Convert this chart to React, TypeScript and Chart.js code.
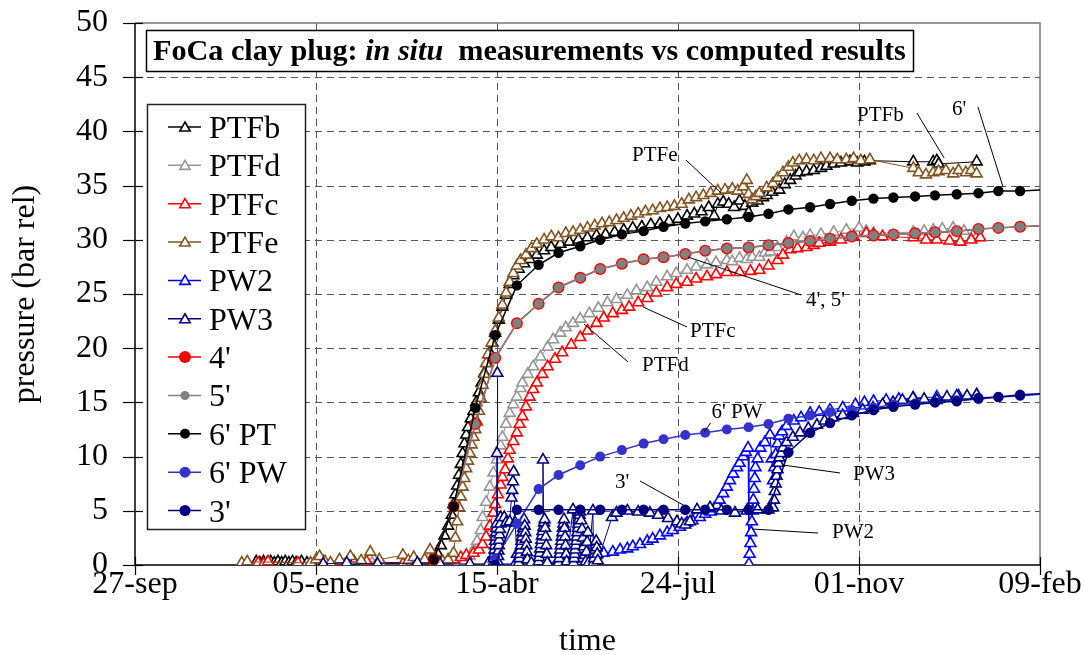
import React, { useEffect, useRef } from 'react';
import { Chart, registerables } from 'chart.js';

Chart.register(...registerables);

const SERIF = "'Liberation Serif', 'Times New Roman', Times, serif";

// ---------- axes ----------
const xTickLabels = ['27-sep', '05-ene', '15-abr', '24-jul', '01-nov', '09-feb'];
const xMin = 0;
const xMax = 500;
const xStep = 100;
const yMin = 0;
const yMax = 50;
const yStep = 5;
const xTitle = 'time';
const yTitle = 'pressure (bar rel)';

// ---------- measured series: [day since 27-sep, bar] ----------
const ptfb: [number, number][] = [
  [67, 0.3], [69, 0.2], [71, 0.3], [73, 0.2], [75, 0.3], [77, 0.2], [79, 0.3], [81, 0.2], [83, 0.3], [85, 0.2], [87, 0.3], [89, 0.2], [92, 0.3], [95, 0.2], [121, 0.3], [150, 0.2],
  [160, 0.3], [164, 0.6], [167, 1.1], [169, 1.8], [171, 2.7], [173, 3.6], [175, 4.6], [176, 5.6], [177, 6.5], [178, 7.3], [179, 8.3], [180, 9.3], [181, 10.3], [182, 11.2], [183, 12.0], [184, 12.7], [185.5, 13.5], [187, 14.2], [188.5, 15.0], [190, 15.9], [191.5, 16.8], [193, 17.7], [194.5, 18.6], [196, 19.6], [197.5, 20.5], [199, 21.4], [201, 22.6], [203, 23.8], [205, 24.9], [207, 25.9], [209, 26.7], [212, 27.3], [215, 27.8], [218, 28.2], [222, 28.6], [226, 29.0], [230, 29.3], [235, 29.6], [240, 29.8], [245, 30.0], [250, 30.2], [255, 30.4], [260, 30.5], [265, 30.7], [270, 30.9], [275, 31.1], [280, 31.2], [285, 31.4], [290, 31.5], [295, 31.7], [300, 31.9], [305, 32.2], [309, 32.4], [313, 32.6], [317, 33.0], [320, 32.2], [322, 33.3], [325, 33.5], [328, 33.3], [331, 33.0], [334, 33.6], [337, 33.1], [339, 32.5], [341, 33.4], [344, 33.6], [347, 33.9], [349, 34.1], [352, 34.4], [356, 34.6], [359, 35.1], [362, 35.5], [365, 35.9], [367, 36.2], [371, 36.3], [375, 36.4], [379, 36.6], [382, 36.8], [386, 37.0], [390, 37.1], [395, 37.2], [399, 37.1], [403, 37.2], [406, 37.3], [430, 37.2], [441, 37.2], [443, 37.3], [444, 37.0], [465, 37.2],
];

const ptfd: [number, number][] = [
  [131, 0.2], [136, 0.1], [178, 0.1], [182, 0.3], [185, 0.8], [187, 1.4], [189, 2.2], [191, 3.2], [192, 4.4], [194, 5.8], [196, 7.2], [198, 8.5], [200, 9.7], [202, 11.0], [203, 11.8], [205, 13.0], [207, 14.0], [209, 14.8], [211, 15.5], [213, 16.3], [214, 16.8], [217, 17.6], [220, 18.3], [224, 19.2], [228, 20.1], [231, 20.8], [235, 21.4], [238, 21.9], [242, 22.3], [246, 22.7], [251, 23.2], [256, 23.7], [261, 24.2], [266, 24.5], [272, 24.9], [277, 25.3], [283, 25.6], [288, 26.1], [294, 26.6], [299, 26.9], [305, 27.2], [310, 27.5], [316, 27.7], [321, 27.9], [327, 28.1], [330, 28.0], [334, 28.3], [338, 28.2], [341, 28.4], [345, 28.4], [348, 28.8], [351, 28.9], [355, 29.3], [360, 29.8], [364, 30.3], [369, 30.2], [373, 30.4], [379, 30.5], [386, 30.7], [393, 30.9], [400, 31.1], [404, 30.8], [408, 30.6], [430, 30.7], [436, 30.8], [441, 30.9], [446, 31.0], [452, 31.1], [458, 30.8], [463, 30.4], [465, 30.2],
];

const ptfc: [number, number][] = [
  [68, 0.2], [71, 0.1], [73.5, 0.3], [90, 0.2], [104, 0.3], [113, 0.3], [128, 0.3], [148, 0.1], [165, 0.2], [170, 0.3], [176, 0.5], [180, 0.7], [183, 0.9], [187, 1.1], [190, 1.4], [192, 1.9], [194, 2.6], [196, 3.6], [198, 4.8], [199, 5.6], [200.5, 6.5], [202, 7.4], [203, 8.1], [204.5, 8.8], [206, 9.8], [207, 10.6], [209, 11.4], [211, 12.2], [212.5, 13.0], [214, 13.7], [216, 14.6], [218, 15.5], [220, 16.2], [222, 16.8], [225, 17.6], [228, 18.3], [232, 19.0], [236, 19.6], [241, 20.3], [246, 21.0], [250, 21.6], [255, 22.3], [259, 22.8], [264, 23.2], [269, 23.5], [273, 23.8], [278, 24.2], [283, 24.6], [288, 25.1], [294, 25.6], [299, 25.9], [305, 26.1], [310, 26.4], [316, 26.6], [321, 26.8], [327, 27.0], [334, 27.0], [340, 27.1], [345, 27.2], [350, 27.6], [355, 28.1], [358, 28.6], [362, 29.1], [366, 29.2], [371, 29.3], [375, 29.5], [378, 29.7], [384, 29.8], [390, 30.0], [397, 30.3], [404, 30.6], [408, 30.5], [413, 30.3], [430, 30.2], [437, 30.0], [443, 30.0], [450, 29.9], [456, 29.8], [462, 30.0], [467, 30.2],
];

const ptfe: [number, number][] = [
  [59, 0.2], [62, 0.3], [97, 0.2], [100, 0.5], [102, 0.8], [105, 0.3], [108, 0.2], [113, 0.5], [119, 0.8], [125, 0.4], [130, 1.2], [135, 0.5], [148, 0.9], [151, 0.4], [154, 0.7], [160, 0.5], [163, 1.4], [166, 0.6], [170, 0.3], [173, 0.5], [176, 1.1], [177, 2.5], [178, 4.0], [179, 5.3], [180, 6.3], [181, 7.2], [182, 8.0], [183, 8.9], [184, 9.6], [185, 10.3], [186, 11.1], [187, 11.8], [188, 12.5], [189, 13.2], [190, 14.2], [191, 15.4], [192, 16.6], [193, 17.6], [194, 18.6], [195, 19.4], [197, 20.5], [199, 21.6], [201, 22.8], [203, 24.0], [205, 25.1], [207, 26.1], [209, 26.9], [211, 27.6], [213, 28.1], [216, 28.6], [219, 29.2], [222, 29.6], [226, 30.0], [230, 30.3], [234, 30.2], [238, 30.6], [242, 30.7], [246, 30.9], [250, 31.1], [254, 31.3], [258, 31.5], [262, 31.6], [266, 31.8], [270, 32.0], [274, 32.2], [278, 32.4], [282, 32.6], [286, 32.7], [290, 32.9], [294, 33.0], [298, 33.1], [302, 33.3], [306, 33.7], [310, 33.9], [314, 34.1], [318, 34.3], [322, 34.5], [326, 34.6], [330, 34.7], [333, 34.5], [336, 34.9], [338, 35.5], [339, 34.2], [341, 33.7], [343, 34.0], [345, 34.3], [349, 34.8], [352.5, 35.2], [355, 35.7], [358, 36.2], [361, 36.7], [363.5, 37.1], [367, 37.3], [371, 37.4], [375, 37.3], [379, 37.5], [384, 37.5], [388, 37.4], [393, 37.4], [397, 37.5], [401, 37.3], [406, 37.4], [430, 36.6], [433, 36.2], [437, 36.0], [441, 36.2], [444, 36.3], [448, 36.4], [452, 36.1], [455, 36.4], [459, 36.2], [462, 36.4], [465, 36.1],
];

const pw2: [number, number][] = [
  [200, 0.1], [210, 0.1], [222, 0.3], [228, 0.2], [234, 0.3], [238, 0.4], [242, 0.6], [247, 0.6], [251, 0.7], [255, 0.9], [259, 1.1], [264, 1.2], [268, 1.4], [272, 1.5], [275, 1.7], [279, 1.9], [283, 2.2], [286, 2.4], [290, 2.7], [294, 3.0], [297, 3.2], [301, 3.5], [305, 3.9], [308, 4.1], [312, 4.4], [315, 4.7], [318, 4.9], [320, 5.2], [321.5, 5.5], [323, 6.0], [325, 6.6], [327, 7.2], [328.7, 7.8], [330.5, 8.4], [332.6, 9.0], [334, 9.4], [336, 10.0], [337.5, 10.4], [338.7, 10.8],
  [339.2, 0.1], [339.6, 1.0], [340, 2.0], [340.4, 3.0], [340.8, 4.0], [341.2, 5.0], [341.6, 6.0], [342, 7.0], [342.4, 8.0], [342.8, 9.0], [344, 9.8], [345.5, 10.8], [348, 11.3], [350.8, 12.0], [351.8, 9.8], [352.5, 7.8], [353.2, 9.0], [354, 10.2], [355, 11.2], [356, 11.9], [357.5, 12.3], [360, 12.8], [364, 13.3], [368, 13.6], [373, 14.0], [378, 14.1], [384, 14.3], [391, 14.5], [398, 14.8], [403, 15.0], [408, 15.1], [415, 15.2], [422, 15.3], [430, 15.4], [443, 15.5], [455, 15.6], [465, 15.7],
];

const pw3: [number, number][] = [
  [104, 0.1], [117, 0.2], [134, 0.1], [156, 0.2], [168.5, 0.1], [185, 0.1], [195, 0.1],
  [198, 0.2], [198.2, 0.6], [198.4, 1.0], [198.6, 1.4], [198.8, 1.8], [199, 2.2], [199.2, 2.6], [199.4, 3.0], [199.6, 3.4], [199.8, 3.8], [200, 10.3], [200.2, 17.7], [200.4, 0.3], [200.6, 0.8], [200.8, 1.3], [201, 1.8], [201.2, 2.3], [201.4, 2.8], [201.6, 3.3], [201.8, 3.8], [202, 4.4],
  [204, 4.4], [205, 3.9], [207, 4.0], [208, 6.2], [208.4, 6.9], [208.8, 7.7], [209.2, 8.6], [210, 3.9], [211, 1.0],
  [212, 0.2], [212.3, 0.6], [212.6, 1.0], [212.9, 1.4], [213.2, 1.8], [213.5, 2.2], [213.8, 2.6], [214.1, 3.0], [214.4, 3.4], [214.7, 3.8], [215, 4.2], [215.3, 3.6], [215.6, 3.0], [215.9, 2.4], [216.2, 1.8], [216.5, 1.2], [216.8, 0.5], [219, 0.2],
  [223, 0.3], [223.3, 0.7], [223.6, 1.1], [223.9, 1.5], [224.2, 1.9], [224.5, 2.3], [224.8, 2.7], [225.1, 3.1], [225.4, 9.7], [225.7, 3.5], [226, 3.9], [226.3, 4.2], [226.6, 3.4], [226.9, 2.6], [227.2, 1.8], [227.5, 1.0], [227.8, 0.2],
  [234, 0.2], [234.3, 0.6], [234.6, 1.0], [234.9, 1.4], [235.2, 1.8], [235.5, 2.2], [235.8, 2.6], [236.1, 3.0], [236.4, 3.4], [236.7, 3.8], [237, 4.2], [237.3, 3.4], [237.6, 2.6], [237.9, 1.8], [238.2, 1.0], [238.5, 0.3],
  [242, 5.1], [242.3, 0.2], [242.6, 0.6], [242.9, 1.0], [243.2, 1.4], [243.5, 1.8], [243.8, 2.2], [244.1, 2.6], [244.4, 3.0], [244.7, 3.4], [245, 3.8], [245.3, 4.2], [245.6, 4.6], [245.9, 4.9], [246.5, 4.1], [247, 3.3], [247.5, 2.5], [248, 1.7], [248.5, 0.9], [249, 0.3], [249.4, 1.2], [249.8, 2.1], [250.2, 3.0], [250.6, 0.2],
  [253, 5.0], [253.3, 0.2], [253.6, 0.6], [253.9, 1.0], [254.2, 1.4], [254.5, 1.8], [254.8, 2.2], [255.1, 1.6], [255.4, 1.0], [255.7, 0.4],
  [263.5, 4.4], [266, 4.8], [272, 5.0], [278, 4.9], [284.5, 4.8], [289, 4.6], [294.5, 4.3], [299.4, 4.0], [302, 3.8], [304, 3.7], [306.6, 4.0], [310.5, 5.1], [317.7, 5.3], [324, 5.0], [331.5, 4.8], [338, 5.0], [344, 5.1], [350, 5.1],
  [352.5, 5.3], [353, 6.0], [353.5, 6.8], [354, 7.5], [354.5, 8.2], [355, 8.8], [355.5, 9.4], [356, 9.9], [357, 10.3], [358, 10.8], [360, 11.3], [363.5, 11.8], [367.4, 12.2], [372, 12.6], [376.8, 12.9], [381, 13.3], [385.6, 13.6], [391, 13.8], [396.7, 14.0], [402, 14.3], [407.7, 14.5], [413, 14.8], [418.8, 15.0], [424, 15.2], [429.8, 15.4], [436, 15.3], [443, 15.2], [448.6, 15.5], [454, 15.6], [459.7, 15.6], [465, 15.7],
];

// ---------- computed results ----------
const simDays = [165, 176, 188, 199, 211, 223, 234, 246, 257, 269, 281, 292, 304, 315, 327, 339, 350, 361, 373, 384, 396, 408, 419, 431, 442, 454, 466, 477, 489, 500];
const sim4 = [0.5, 5.4, 13.0, 19.1, 22.3, 24.1, 25.6, 26.5, 27.3, 27.8, 28.2, 28.4, 28.7, 29.0, 29.2, 29.3, 29.5, 29.7, 29.9, 30.1, 30.3, 30.4, 30.5, 30.6, 30.7, 30.8, 31.0, 31.1, 31.2, 31.3];
const sim5 = [0.5, 5.4, 13.0, 19.1, 22.3, 24.1, 25.6, 26.5, 27.3, 27.8, 28.2, 28.4, 28.7, 29.0, 29.2, 29.3, 29.5, 29.7, 29.9, 30.1, 30.3, 30.4, 30.5, 30.6, 30.7, 30.8, 31.0, 31.1, 31.2, 31.3];
const sim6PT = [0.5, 5.4, 14.5, 21.2, 25.8, 27.7, 28.8, 29.4, 30.0, 30.5, 30.8, 31.2, 31.5, 31.7, 31.9, 32.1, 32.4, 32.8, 33.0, 33.3, 33.6, 33.8, 33.9, 34.0, 34.1, 34.2, 34.3, 34.5, 34.5, 34.6];
const sim6PW = [null, null, null, 0.6, 3.8, 7.0, 8.3, 9.2, 10.0, 10.6, 11.2, 11.6, 12.0, 12.2, 12.5, 12.7, 13.0, 13.5, 13.8, 14.1, 14.3, 14.5, 14.8, 14.9, 15.0, 15.2, 15.3, 15.5, 15.6, 15.75];
const sim3 = [null, null, null, 0, 5.1, 5.1, 5.1, 5.1, 5.1, 5.1, 5.1, 5.1, 5.1, 5.1, 5.1, 5.1, 5.1, 10.4, 12.2, 13.1, 13.8, 14.3, 14.6, 14.8, 15.0, 15.1, 15.4, 15.5, 15.7, 15.8];

const seriesNames = ['PTFb', 'PTFd', 'PTFc', 'PTFe', 'PW2', 'PW3', "4'", "5'", "6' PT", "6' PW", "3'"];

// ---------- styles ----------
const styles = [
  { color: '#000000', kind: 'tri', r: 6.3, lr: 6 },
  { color: '#969696', kind: 'tri', r: 6.3, lr: 6 },
  { color: '#FF0000', kind: 'tri', r: 6.3, lr: 6 },
  { color: '#845420', kind: 'tri', r: 6.3, lr: 6 },
  { color: '#0000FF', kind: 'tri', r: 6.3, lr: 6 },
  { color: '#000080', kind: 'tri', r: 6.3, lr: 6 },
  { color: '#FF0000', kind: 'dot', r: 6, lr: 6 },
  { color: '#808080', kind: 'dot', r: 4.6, lr: 4.5 },
  { color: '#000000', kind: 'dot', r: 5.2, lr: 5 },
  { color: '#3333CC', kind: 'dot', r: 5, lr: 5.5 },
  { color: '#000080', kind: 'dot', r: 5.2, lr: 5.5 },
];

// annotations: text at (day, bar) baseline-left, leader line from (day, bar) to (day, bar)
const annotations = [
  { text: 'PTFb', t: [398.9, 40.96], a: [432.0, 41.7], b: [447.0, 37.55] },
  { text: "6'", t: [451.4, 41.51], a: [465.7, 42.25], b: [479.6, 34.87] },
  { text: 'PTFe', t: [274.6, 37.27], a: [304.4, 37.36], b: [323.8, 34.32] },
  { text: "4', 5'", t: [370.7, 23.89], a: [368.0, 24.91], b: [305.5, 28.41] },
  { text: 'PTFc', t: [306.6, 21.03], a: [305.0, 21.96], b: [280.7, 23.8] },
  { text: 'PTFd', t: [280.1, 17.9], a: [272.4, 18.73], b: [248.1, 22.23] },
  { text: "6' PW", t: [318.5, 13.6], a: [318.0, 13.1], b: [314.5, 12.3] },
  { text: "3'", t: [265.2, 7.1], a: [279.0, 7.75], b: [303.9, 5.44] },
  { text: 'PW3', t: [396.7, 7.84], a: [389.5, 8.49], b: [357.5, 9.23] },
  { text: 'PW2', t: [385.1, 2.49], a: [377.3, 2.95], b: [340.9, 3.32] },
];

function triPath(ctx: CanvasRenderingContext2D, x: number, y: number, r: number) {
  ctx.beginPath();
  ctx.moveTo(x, y - r);
  ctx.lineTo(x + r * 0.866, y + r / 2);
  ctx.lineTo(x - r * 0.866, y + r / 2);
  ctx.closePath();
}

const decoPlugin = {
  id: 'deco',
  beforeDatasetsDraw(chart: any) {
    const { ctx, chartArea: a, scales } = chart;
    const xs = scales.x;
    const ys = scales.y;
    ctx.save();
    // dashed grid
    ctx.strokeStyle = '#555555';
    ctx.lineWidth = 1;
    ctx.setLineDash([7, 5]);
    ys.ticks.forEach((t: any) => {
      if (t.value <= yMin || t.value >= yMax) return;
      const py = Math.round(ys.getPixelForValue(t.value)) + 0.5;
      ctx.beginPath();
      ctx.moveTo(a.left, py);
      ctx.lineTo(a.right, py);
      ctx.stroke();
    });
    xs.ticks.forEach((t: any) => {
      if (t.value <= xMin || t.value >= xMax) return;
      const px = Math.round(xs.getPixelForValue(t.value)) + 0.5;
      ctx.beginPath();
      ctx.moveTo(px, a.top);
      ctx.lineTo(px, a.bottom);
      ctx.stroke();
    });
    ctx.setLineDash([]);
    // frame top/right
    ctx.strokeStyle = '#777777';
    ctx.lineWidth = 1.5;
    ctx.beginPath();
    ctx.moveTo(a.left, a.top);
    ctx.lineTo(a.right, a.top);
    ctx.lineTo(a.right, a.bottom);
    ctx.stroke();
    // axes
    ctx.strokeStyle = '#000000';
    ctx.lineWidth = 1.5;
    ctx.beginPath();
    ctx.moveTo(a.left, a.top);
    ctx.lineTo(a.left, a.bottom);
    ctx.lineTo(a.right, a.bottom);
    ctx.stroke();
    // cross tick marks
    ctx.lineWidth = 1.2;
    ys.ticks.forEach((t: any) => {
      const py = Math.round(ys.getPixelForValue(t.value)) + 0.5;
      ctx.beginPath();
      ctx.moveTo(a.left - 12, py);
      ctx.lineTo(a.left + 8, py);
      ctx.stroke();
    });
    xs.ticks.forEach((t: any) => {
      const px = Math.round(xs.getPixelForValue(t.value)) + 0.5;
      ctx.beginPath();
      ctx.moveTo(px, a.bottom - 8);
      ctx.lineTo(px, a.bottom + 10);
      ctx.stroke();
    });
    // axis titles
    ctx.fillStyle = '#000000';
    ctx.font = `32px ${SERIF}`;
    ctx.textAlign = 'center';
    ctx.textBaseline = 'alphabetic';
    ctx.fillText(xTitle, (a.left + a.right) / 2, 650);
    ctx.save();
    ctx.translate(34, (a.top + a.bottom) / 2);
    ctx.rotate(-Math.PI / 2);
    ctx.fillText(yTitle, 0, 0);
    ctx.restore();
    ctx.restore();
  },
  afterDatasetsDraw(chart: any) {
    const { ctx, scales } = chart;
    const xs = scales.x;
    const ys = scales.y;
    const P = (p: number[]) => [xs.getPixelForValue(p[0]), ys.getPixelForValue(p[1])];
    ctx.save();

    // annotations
    ctx.strokeStyle = '#000000';
    ctx.lineWidth = 1;
    ctx.fillStyle = '#000000';
    ctx.font = `21px ${SERIF}`;
    ctx.textAlign = 'left';
    ctx.textBaseline = 'alphabetic';
    annotations.forEach((an) => {
      const [ax, ay] = P(an.a);
      const [bx, by] = P(an.b);
      ctx.beginPath();
      ctx.moveTo(ax, ay);
      ctx.lineTo(bx, by);
      ctx.stroke();
      const [tx, ty] = P(an.t);
      ctx.fillText(an.text, tx, ty);
    });

    // title box
    const bx = 146.5, by = 30.5, bw = 767, bh = 41;
    ctx.fillStyle = '#ffffff';
    ctx.fillRect(bx, by, bw, bh);
    ctx.strokeStyle = '#000000';
    ctx.lineWidth = 1.5;
    ctx.strokeRect(bx, by, bw, bh);
    const parts: [string, string][] = [
      ['FoCa clay plug: ', 'bold'],
      ['in situ', 'italic bold'],
      ['  measurements vs computed results', 'bold'],
    ];
    const measure = (s: number) =>
      parts.reduce((w, [t, st]) => {
        ctx.font = `${st} ${s}px ${SERIF}`;
        return w + ctx.measureText(t).width;
      }, 0);
    const size = (26 * 753) / measure(26);
    let cx = 153;
    ctx.fillStyle = '#000000';
    ctx.textAlign = 'left';
    parts.forEach(([t, st]) => {
      ctx.font = `${st} ${size}px ${SERIF}`;
      ctx.fillText(t, cx, 60);
      cx += ctx.measureText(t).width;
    });

    // legend
    const lx = 147.5, ly = 104.5, lw = 158, lh = 425;
    ctx.fillStyle = '#ffffff';
    ctx.fillRect(lx, ly, lw, lh);
    ctx.strokeStyle = '#222222';
    ctx.lineWidth = 1.5;
    ctx.strokeRect(lx, ly, lw, lh);
    ctx.font = `32px ${SERIF}`;
    seriesNames.forEach((name, i) => {
      const st = styles[i];
      const cy = 127 + i * 38.35;
      ctx.strokeStyle = st.color;
      ctx.lineWidth = 1.5;
      ctx.beginPath();
      ctx.moveTo(168, cy);
      ctx.lineTo(201, cy);
      ctx.stroke();
      if (st.kind === 'tri') {
        triPath(ctx, 185, cy + 1, st.lr);
        ctx.fillStyle = '#ffffff';
        ctx.fill();
        ctx.strokeStyle = st.color;
        ctx.lineWidth = 1.6;
        ctx.stroke();
      } else {
        ctx.beginPath();
        ctx.arc(185, cy, st.lr, 0, Math.PI * 2);
        ctx.fillStyle = st.color;
        ctx.fill();
      }
      ctx.fillStyle = '#000000';
      ctx.fillText(name, 209, cy + 11);
    });
    ctx.restore();
  },
};

const zeroPad = (s: any) => {
  s.paddingTop = 0;
  s.paddingBottom = 0;
  s.paddingLeft = 0;
  s.paddingRight = 0;
};

export default function App() {
  const ref = useRef<HTMLCanvasElement>(null);
  useEffect(() => {
    document.body.style.margin = '0';
    const measured = [ptfb, ptfd, ptfc, ptfe, pw2, pw3];
    const sims = [sim4, sim5, sim6PT, sim6PW, sim3];
    const N = seriesNames.length;
    const datasets: any[] = [];
    measured.forEach((s, i) => {
      const st = styles[i];
      datasets.push({
        label: seriesNames[i],
        data: s.map(([x, y]) => ({ x, y })),
        borderColor: st.color,
        borderWidth: 1,
        pointStyle: 'triangle',
        pointRadius: st.r,
        pointBackgroundColor: '#ffffff',
        pointBorderColor: st.color,
        pointBorderWidth: 1.6,
        tension: 0,
        fill: false,
        order: N - i,
      });
    });
    sims.forEach((vals, k) => {
      const i = k + 6;
      const st = styles[i];
      datasets.push({
        label: seriesNames[i],
        data: simDays.map((x, j) => ({ x, y: vals[j] })),
        borderColor: st.color,
        borderWidth: 1.5,
        pointStyle: 'circle',
        pointRadius: (c: any) => (c.dataIndex === simDays.length - 1 ? 0 : st.r),
        pointBackgroundColor: st.color,
        pointBorderColor: st.color,
        pointBorderWidth: 0,
        tension: 0,
        fill: false,
        spanGaps: false,
        order: N - i,
      });
    });

    const chart = new Chart(ref.current as HTMLCanvasElement, {
      type: 'line',
      data: { datasets },
      plugins: [decoPlugin],
      options: {
        responsive: false,
        animation: false,
        devicePixelRatio: 1,
        events: [],
        layout: { padding: { left: 0, right: 45, top: 23, bottom: 0 } },
        plugins: {
          legend: { display: false },
          tooltip: { enabled: false },
          title: { display: false },
        },
        scales: {
          x: {
            type: 'linear',
            min: xMin,
            max: xMax,
            grid: { display: false, drawTicks: false },
            border: { display: false },
            ticks: {
              stepSize: xStep,
              autoSkip: false,
              maxRotation: 0,
              minRotation: 0,
              padding: 0,
              color: '#000000',
              font: { family: SERIF, size: 32 },
              callback: (v: any) => xTickLabels[Math.round((Number(v) - xMin) / xStep)] ?? '',
            },
            afterFit: (s: any) => {
              s.height = 90;
              zeroPad(s);
            },
          },
          y: {
            type: 'linear',
            min: yMin,
            max: yMax,
            grid: { display: false, drawTicks: false },
            border: { display: false },
            ticks: {
              stepSize: yStep,
              padding: 27,
              color: '#000000',
              font: { family: SERIF, size: 32 },
            },
            afterFit: (s: any) => {
              s.width = 135;
              zeroPad(s);
            },
          },
        },
      },
    } as any);
    return () => chart.destroy();
  }, []);
  return (
    <div style={{ width: 1085, height: 655, position: 'relative', background: '#ffffff' }}>
      <canvas ref={ref} width={1085} height={655} style={{ display: 'block', width: 1085, height: 655 }} />
    </div>
  );
}
